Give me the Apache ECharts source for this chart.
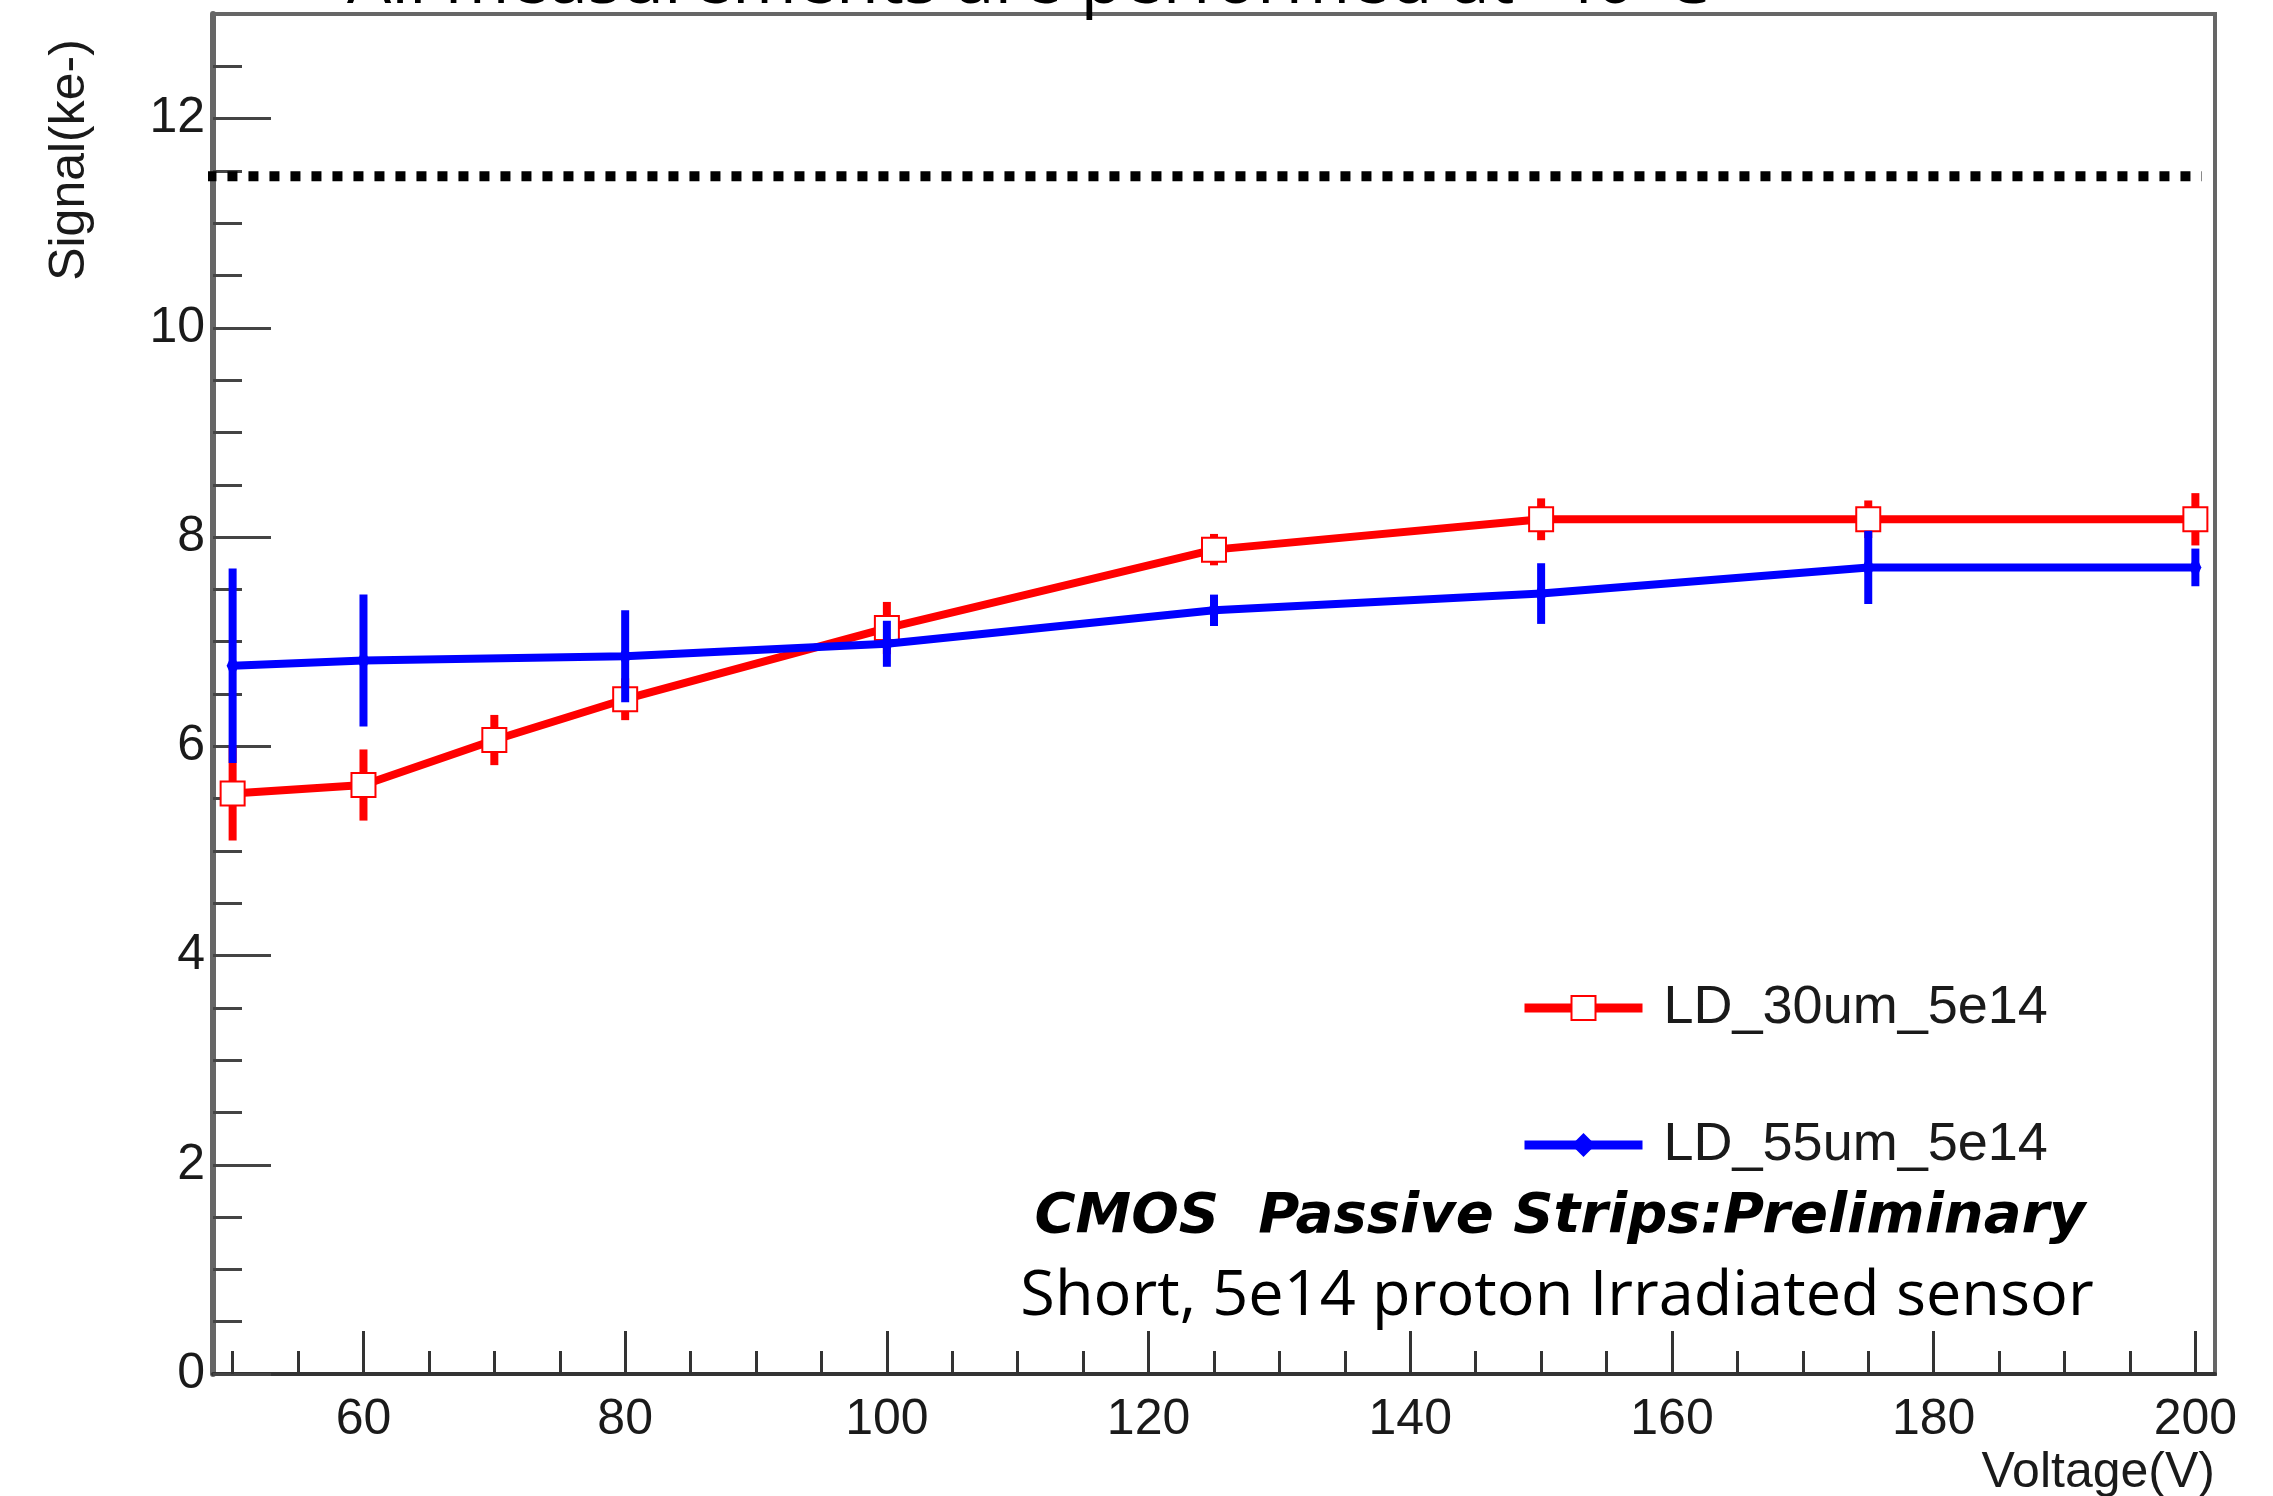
<!DOCTYPE html>
<html>
<head>
<meta charset="utf-8">
<script src="https://cdn.jsdelivr.net/npm/echarts@6/dist/echarts.min.js"></script>
<style>
html,body{margin:0;padding:0;background:#fff;}
#chart{width:2273px;height:1496px;}
</style>
</head>
<body>
<div id="chart"></div>
<script>
// ---- data ----
const voltRed = [50, 60, 70, 80, 100, 125, 150, 175, 200];
const signalRed = [5.55, 5.63, 6.06, 6.45, 7.13, 7.88, 8.17, 8.17, 8.17];
const errRed = [0.45, 0.34, 0.24, 0.20, 0.25, 0.15, 0.20, 0.18, 0.25];

const voltBlue = [50, 60, 80, 100, 125, 150, 175, 200];
const signalBlue = [6.77, 6.82, 6.86, 6.98, 7.30, 7.46, 7.71, 7.71];
const errBlue = [0.93, 0.63, 0.44, 0.22, 0.15, 0.29, 0.35, 0.18];

const referenceLevel = 11.45;
const referenceSpan = [48, 200.5];

const xTicks = [60, 80, 100, 120, 140, 160, 180, 200];
const xMinorTicks = [50, 55, 65, 70, 75, 85, 90, 95, 105, 110, 115, 125, 130, 135, 145, 150, 155, 165, 170, 175, 185, 190, 195];
const yTicks = [0, 2, 4, 6, 8, 10, 12];
const yMinorTicks = [0.5, 1, 1.5, 2.5, 3, 3.5, 4.5, 5, 5.5, 6.5, 7, 7.5, 8.5, 9, 9.5, 10.5, 11, 11.5, 12.5];

const seriesNames = ['LD_30um_5e14', 'LD_55um_5e14'];
const titleText = 'All measurements are performed at -40°C';
const noteBold = 'CMOS  Passive Strips:Preliminary';
const noteText = 'Short, 5e14 proton Irradiated sensor';
const xTitle = 'Voltage(V)';
const yTitle = 'Signal(ke-)';

// ---- build ----
const RED = '#ff0000', BLUE = '#0000ff';
const pairs = (xs, ys) => xs.map((x, i) => [x, ys[i]]);
const triples = (xs, ys, es) => xs.map((x, i) => [x, ys[i], es[i]]);

function errRender(color) {
  return function (params, api) {
    const x = api.value(0), y = api.value(1), e = api.value(2);
    const p1 = api.coord([x, y - e]);
    const p2 = api.coord([x, y + e]);
    return {
      type: 'line',
      shape: { x1: p1[0], y1: p1[1], x2: p2[0], y2: p2[1] },
      style: { stroke: color, lineWidth: 8 }
    };
  };
}

const xMin = 48.5, xMax = 201.5, yMin = 0, yMax = 13;
const labelFont = { fontFamily: 'Liberation Sans', fontSize: 50, color: '#1a1a1a' };

const chart = echarts.init(document.getElementById('chart'), null, { renderer: 'canvas' });
chart.setOption({
  backgroundColor: '#fff',
  animation: false,
  grid: { left: 213, right: 58, top: 14, bottom: 122, show: true, borderColor: '#666', borderWidth: 4, backgroundColor: 'transparent' },
  xAxis: [
    {
      type: 'value', min: xMin, max: xMax,
      axisLine: { show: true, onZero: false, lineStyle: { color: '#333', width: 4 } },
      axisTick: { show: true, inside: true, length: 43, customValues: xTicks, lineStyle: { color: '#333', width: 3 } },
      axisLabel: { show: true, margin: 21, customValues: xTicks, ...labelFont },
      splitLine: { show: false }
    },
    {
      type: 'value', min: xMin, max: xMax, position: 'bottom',
      axisLine: { show: false },
      axisTick: { show: true, inside: true, length: 23, customValues: xMinorTicks, lineStyle: { color: '#333', width: 3 } },
      axisLabel: { show: false },
      splitLine: { show: false }
    }
  ],
  yAxis: [
    {
      type: 'value', min: yMin, max: yMax,
      axisLine: { show: true, onZero: false, lineStyle: { color: '#666', width: 6 } },
      axisTick: { show: true, inside: true, length: 58, customValues: yTicks, lineStyle: { color: '#444', width: 3 } },
      axisLabel: { show: true, margin: 8, customValues: yTicks, ...labelFont },
      splitLine: { show: false }
    },
    {
      type: 'value', min: yMin, max: yMax, position: 'left',
      axisLine: { show: false },
      axisTick: { show: true, inside: true, length: 29, customValues: yMinorTicks, lineStyle: { color: '#444', width: 3 } },
      axisLabel: { show: false },
      splitLine: { show: false }
    }
  ],
  legend: {
    data: seriesNames,
    orient: 'vertical',
    left: 1515, top: 975,
    itemWidth: 118, itemHeight: 30, itemGap: 81,
    lineStyle: { width: 9 },
    textStyle: { fontFamily: 'Liberation Sans', fontSize: 54, lineHeight: 56, color: '#1a1a1a', padding: [0, 0, 0, 16] }
  },
  series: [
    {
      name: 'reference', type: 'line', data: referenceSpan.map(x => [x, referenceLevel]),
      clip: false, symbol: 'none', silent: true,
      lineStyle: { color: '#000', width: 10, type: [10, 11], cap: 'butt' }, z: 1
    },
    {
      name: seriesNames[0] + ' err', type: 'custom', renderItem: errRender(RED),
      data: triples(voltRed, signalRed, errRed), encode: { x: 0, y: 1 }, z: 2
    },
    {
      name: seriesNames[0], type: 'line', data: pairs(voltRed, signalRed),
      color: RED, lineStyle: { color: RED, width: 8 },
      symbol: 'emptyRect', symbolSize: 24, itemStyle: { color: RED, borderColor: RED, borderWidth: 5 }, z: 3
    },
    {
      name: seriesNames[1] + ' err', type: 'custom', renderItem: errRender(BLUE),
      data: triples(voltBlue, signalBlue, errBlue), encode: { x: 0, y: 1 }, z: 4
    },
    {
      name: seriesNames[1], type: 'line', data: pairs(voltBlue, signalBlue),
      color: BLUE, lineStyle: { color: BLUE, width: 8 },
      symbol: 'diamond', symbolSize: [12, 26], itemStyle: { color: BLUE, borderColor: BLUE, borderWidth: 0 }, z: 5
    }
  ],
  graphic: [
    { type: 'text', left: 347, top: -52, style: { text: titleText, fontFamily: 'Open Sans', fontSize: 70, fill: '#000' }, z: 0 },
    { type: 'text', x: 70, y: 160, rotation: Math.PI / 2, style: { text: yTitle, fontFamily: 'Liberation Sans', fontSize: 50, fill: '#1a1a1a', align: 'center', verticalAlign: 'middle' } },
    { type: 'text', x: 2215, y: 1473, style: { text: xTitle, fontFamily: 'Liberation Sans', fontSize: 50, fill: '#1a1a1a', align: 'right', verticalAlign: 'middle' } },
    { type: 'text', x: 1560, y: 1217, style: { text: noteBold, fontFamily: 'DejaVu Sans', fontWeight: 'bold', fontStyle: 'italic', fontSize: 56, fill: '#000', align: 'center', verticalAlign: 'middle' } },
    { type: 'text', x: 1557, y: 1297, style: { text: noteText, fontFamily: 'Open Sans', fontSize: 63, fill: '#000', align: 'center', verticalAlign: 'middle' } }
  ]
});
</script>
</body>
</html>
